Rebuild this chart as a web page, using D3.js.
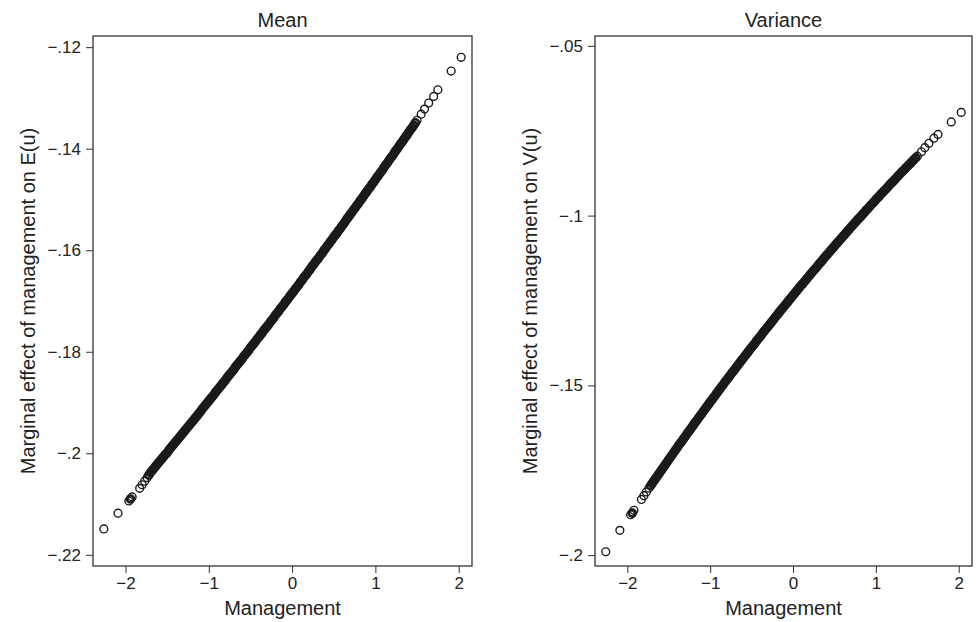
<!DOCTYPE html>
<html>
<head>
<meta charset="utf-8">
<script src="https://cdn.jsdelivr.net/npm/d3@7"></script>
<style>
  body { margin: 0; background: #fff; }
  svg { display: block; font-family: "Liberation Sans", Arial, sans-serif; }
</style>
</head>
<body>
<svg id="chart" width="976" height="622"></svg>
<script>
// management score of each observation (shared by both panels)
const management = [
  -2.26, -2.09, -1.96, -1.94, -1.92, -1.83, -1.80, -1.77, -1.74, -1.72,
  -1.70, -1.68, -1.66, -1.64, -1.62, -1.60, -1.58, -1.56, -1.54, -1.52,
  -1.50, -1.48, -1.46, -1.44, -1.42, -1.40, -1.38, -1.36, -1.34, -1.32,
  -1.30, -1.28, -1.26, -1.24, -1.22, -1.20, -1.18, -1.16, -1.14, -1.12,
  -1.10, -1.08, -1.06, -1.04, -1.02, -1.00, -0.98, -0.96, -0.94, -0.92,
  -0.90, -0.88, -0.86, -0.84, -0.82, -0.80, -0.78, -0.76, -0.74, -0.72,
  -0.70, -0.68, -0.66, -0.64, -0.62, -0.60, -0.58, -0.56, -0.54, -0.52,
  -0.50, -0.48, -0.46, -0.44, -0.42, -0.40, -0.38, -0.36, -0.34, -0.32,
  -0.30, -0.28, -0.26, -0.24, -0.22, -0.20, -0.18, -0.16, -0.14, -0.12,
  -0.10, -0.08, -0.06, -0.04, -0.02, 0.00, 0.02, 0.04, 0.06, 0.08,
  0.10, 0.12, 0.14, 0.16, 0.18, 0.20, 0.22, 0.24, 0.26, 0.28,
  0.30, 0.32, 0.34, 0.36, 0.38, 0.40, 0.42, 0.44, 0.46, 0.48,
  0.50, 0.52, 0.54, 0.56, 0.58, 0.60, 0.62, 0.64, 0.66, 0.68,
  0.70, 0.72, 0.74, 0.76, 0.78, 0.80, 0.82, 0.84, 0.86, 0.88,
  0.90, 0.92, 0.94, 0.96, 0.98, 1.00, 1.02, 1.04, 1.06, 1.08,
  1.10, 1.12, 1.14, 1.16, 1.18, 1.20, 1.22, 1.24, 1.26, 1.28,
  1.30, 1.32, 1.34, 1.36, 1.38, 1.40, 1.42, 1.44, 1.46, 1.48,
  1.50, 1.55, 1.59, 1.64, 1.70, 1.75, 1.91, 2.03
]

// marginal effect of management on E(u)
const meanEffect = [
  -0.2149, -0.2118, -0.2094, -0.2090, -0.2086, -0.2069, -0.2062, -0.2055, -0.2048, -0.2043,
  -0.2038, -0.2034, -0.2030, -0.2026, -0.2022, -0.2018, -0.2014, -0.2010, -0.2006, -0.2002,
  -0.1999, -0.1994, -0.1990, -0.1986, -0.1982, -0.1978, -0.1974, -0.1970, -0.1966, -0.1962,
  -0.1958, -0.1954, -0.1950, -0.1946, -0.1942, -0.1938, -0.1934, -0.1930, -0.1926, -0.1922,
  -0.1918, -0.1913, -0.1909, -0.1905, -0.1901, -0.1897, -0.1893, -0.1889, -0.1885, -0.1880,
  -0.1876, -0.1872, -0.1868, -0.1864, -0.1860, -0.1856, -0.1851, -0.1847, -0.1843, -0.1839,
  -0.1835, -0.1830, -0.1826, -0.1822, -0.1818, -0.1814, -0.1809, -0.1805, -0.1801, -0.1797,
  -0.1792, -0.1788, -0.1784, -0.1780, -0.1775, -0.1771, -0.1767, -0.1763, -0.1758, -0.1754,
  -0.1750, -0.1746, -0.1741, -0.1737, -0.1733, -0.1728, -0.1724, -0.1720, -0.1715, -0.1711,
  -0.1707, -0.1702, -0.1698, -0.1694, -0.1689, -0.1685, -0.1681, -0.1676, -0.1672, -0.1668,
  -0.1663, -0.1659, -0.1654, -0.1650, -0.1646, -0.1641, -0.1637, -0.1632, -0.1628, -0.1623,
  -0.1619, -0.1615, -0.1610, -0.1606, -0.1601, -0.1597, -0.1592, -0.1588, -0.1583, -0.1579,
  -0.1574, -0.1570, -0.1566, -0.1561, -0.1557, -0.1552, -0.1548, -0.1543, -0.1538, -0.1534,
  -0.1529, -0.1525, -0.1520, -0.1516, -0.1511, -0.1507, -0.1502, -0.1498, -0.1493, -0.1488,
  -0.1484, -0.1479, -0.1475, -0.1470, -0.1466, -0.1461, -0.1456, -0.1452, -0.1447, -0.1443,
  -0.1438, -0.1433, -0.1429, -0.1424, -0.1419, -0.1415, -0.1410, -0.1405, -0.1401, -0.1396,
  -0.1391, -0.1387, -0.1382, -0.1377, -0.1373, -0.1368, -0.1363, -0.1359, -0.1354, -0.1349,
  -0.1344, -0.1332, -0.1322, -0.1310, -0.1297, -0.1284, -0.1247, -0.1220
]

// marginal effect of management on V(u)
const varianceEffect = [
  -0.1990, -0.1927, -0.1881, -0.1876, -0.1868, -0.1836, -0.1825, -0.1814, -0.1803, -0.1796,
  -0.1789, -0.1782, -0.1775, -0.1768, -0.1761, -0.1754, -0.1747, -0.1740, -0.1733, -0.1726,
  -0.1719, -0.1712, -0.1705, -0.1698, -0.1691, -0.1684, -0.1677, -0.1670, -0.1664, -0.1657,
  -0.1650, -0.1643, -0.1636, -0.1630, -0.1623, -0.1616, -0.1609, -0.1603, -0.1596, -0.1589,
  -0.1583, -0.1576, -0.1569, -0.1563, -0.1556, -0.1549, -0.1543, -0.1536, -0.1530, -0.1523,
  -0.1516, -0.1510, -0.1503, -0.1497, -0.1490, -0.1484, -0.1477, -0.1471, -0.1464, -0.1458,
  -0.1452, -0.1445, -0.1439, -0.1432, -0.1426, -0.1420, -0.1413, -0.1407, -0.1401, -0.1394,
  -0.1388, -0.1382, -0.1376, -0.1369, -0.1363, -0.1357, -0.1351, -0.1344, -0.1338, -0.1332,
  -0.1326, -0.1320, -0.1314, -0.1308, -0.1301, -0.1295, -0.1289, -0.1283, -0.1277, -0.1271,
  -0.1265, -0.1259, -0.1253, -0.1247, -0.1241, -0.1235, -0.1229, -0.1223, -0.1217, -0.1211,
  -0.1205, -0.1200, -0.1194, -0.1188, -0.1182, -0.1176, -0.1170, -0.1164, -0.1159, -0.1153,
  -0.1147, -0.1141, -0.1136, -0.1130, -0.1124, -0.1118, -0.1113, -0.1107, -0.1101, -0.1096,
  -0.1090, -0.1084, -0.1079, -0.1073, -0.1068, -0.1062, -0.1057, -0.1051, -0.1045, -0.1040,
  -0.1034, -0.1029, -0.1023, -0.1018, -0.1012, -0.1007, -0.1002, -0.0996, -0.0991, -0.0985,
  -0.0980, -0.0975, -0.0969, -0.0964, -0.0959, -0.0953, -0.0948, -0.0943, -0.0937, -0.0932,
  -0.0927, -0.0922, -0.0917, -0.0911, -0.0906, -0.0901, -0.0896, -0.0891, -0.0885, -0.0880,
  -0.0875, -0.0870, -0.0865, -0.0860, -0.0855, -0.0850, -0.0845, -0.0840, -0.0835, -0.0830,
  -0.0825, -0.0812, -0.0800, -0.0787, -0.0772, -0.0761, -0.0724, -0.0696
]

const xTicks = [-2, -1, 0, 1, 2]
const meanTicks = [-0.22, -0.20, -0.18, -0.16, -0.14, -0.12]
const varianceTicks = [-0.20, -0.15, -0.10, -0.05]

const svg = d3.select('#chart')
const ink = '#222'
const font = '"Liberation Sans", Arial, sans-serif'

// stata style labels: -.12, -.2, 0
function stataNum (d) {
  if (d === 0) return '0'
  let s = String(Math.abs(+d.toFixed(4))).replace(/^0\./, '.')
  return (d < 0 ? '\u2212' : '') + s
}

function drawPanel (opt) {
  const x = d3.scaleLinear().domain([-2.39, 2.16]).range([opt.left, opt.right])
  const y = d3.scaleLinear().domain(opt.yDomain).range([566, 36])
  const g = svg.append('g')

  g.append('g')
      .attr('transform', 'translate(0,566)')
      .call(d3.axisBottom(x).tickValues(xTicks).tickSize(7).tickPadding(4).tickFormat(stataNum))
      .call(a => a.select('.domain').remove())
      .call(a => a.selectAll('line').attr('stroke', '#333'))
      .call(a => a.selectAll('text').attr('font-size', 17).attr('fill', ink).attr('font-family', font))

  g.append('g')
      .attr('transform', `translate(${opt.left},0)`)
      .call(d3.axisLeft(y).tickValues(opt.ticks).tickSize(7).tickPadding(5).tickFormat(stataNum))
      .call(a => a.select('.domain').remove())
      .call(a => a.selectAll('line').attr('stroke', '#333'))
      .call(a => a.selectAll('text').attr('font-size', 17).attr('fill', ink).attr('font-family', font))

  g.append('rect')
      .attr('x', opt.left)
      .attr('y', 36)
      .attr('width', opt.right - opt.left)
      .attr('height', 530)
      .attr('fill', 'none')
      .attr('stroke', '#333')
      .attr('stroke-width', 1.3)

  // overplotted stretch: a marker whose both neighbours sit within a few px
  // is drawn heavier so the pile of rings reads as a solid band
  const pts = management.map((d, i) => [x(d), y(opt.values[i])])
  const near = (a, b) => b && Math.hypot(a[0] - b[0], a[1] - b[1]) < 3.4
  const dense = pts.map((p, i) => near(p, pts[i - 1]) && near(p, pts[i + 1]))

  g.append('g')
      .selectAll('circle')
      .data(pts)
      .enter()
      .append('circle')
      .attr('cx', d => d[0])
      .attr('cy', d => d[1])
      .attr('r', (d, i) => dense[i] ? 3.5 : 3.9)
      .attr('fill', 'none')
      .attr('stroke', '#1a1a1a')
      .attr('stroke-width', (d, i) => dense[i] ? 2.6 : 1.4)

  g.append('text')
      .attr('x', (opt.left + opt.right) / 2)
      .attr('y', 27)
      .attr('text-anchor', 'middle')
      .attr('font-size', 20)
      .attr('fill', ink)
      .text(opt.title)

  g.append('text')
      .attr('x', (opt.left + opt.right) / 2)
      .attr('y', 615)
      .attr('text-anchor', 'middle')
      .attr('font-size', 20)
      .attr('fill', ink)
      .text('Management')

  g.append('text')
      .attr('transform', `translate(${opt.left - 58},301) rotate(-90)`)
      .attr('text-anchor', 'middle')
      .attr('font-size', 20)
      .attr('fill', ink)
      .text(opt.yLabel)
}

drawPanel({
  left: 93, right: 472,
  yDomain: [-0.2222, -0.1178],
  ticks: meanTicks,
  values: meanEffect,
  title: 'Mean',
  yLabel: 'Marginal effect of management on E(u)'
})

drawPanel({
  left: 595, right: 972,
  yDomain: [-0.2032, -0.0471],
  ticks: varianceTicks,
  values: varianceEffect,
  title: 'Variance',
  yLabel: 'Marginal effect of management on V(u)'
})
</script>
</body>
</html>
